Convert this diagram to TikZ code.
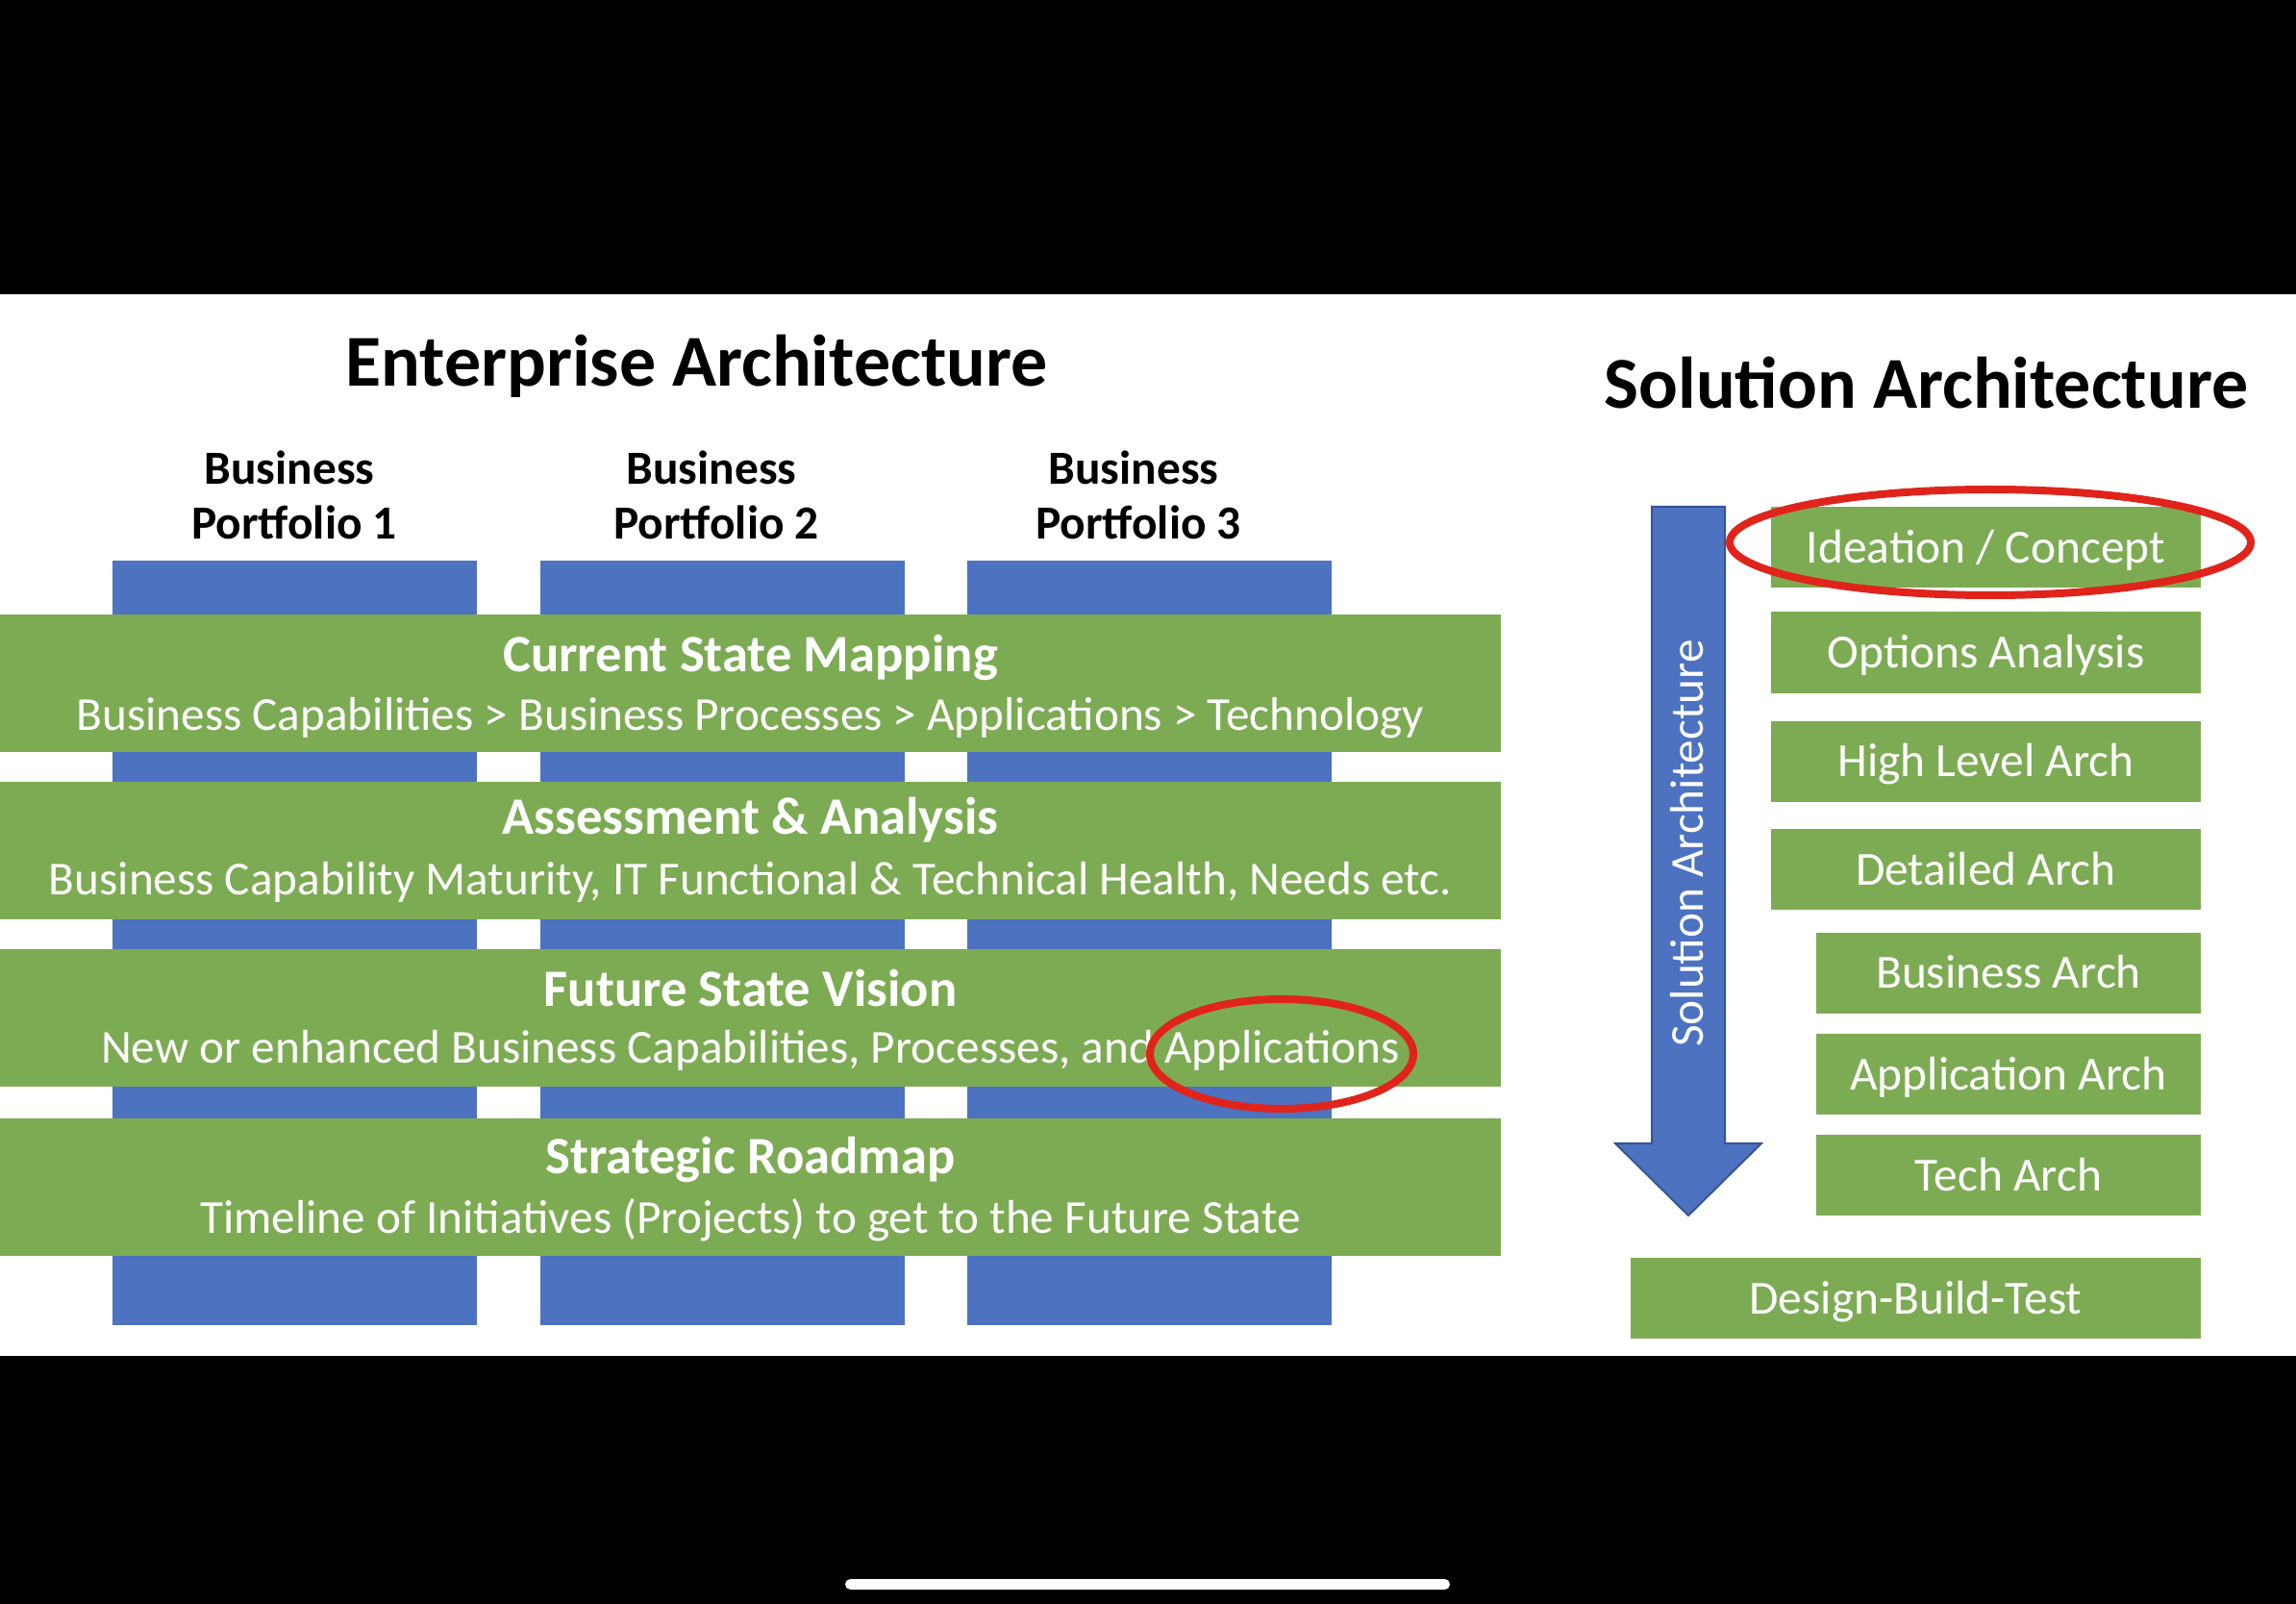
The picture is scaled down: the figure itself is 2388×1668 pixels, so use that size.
\documentclass[tikz,border=0pt]{standalone}
\usepackage{fontspec}
\setmainfont{Carlito}
\usetikzlibrary{shapes.geometric}
\definecolor{eablue}{RGB}{76,114,192}
\definecolor{eagreen}{RGB}{125,171,84}
\definecolor{ringred}{RGB}{224,36,28}
\definecolor{arrowedge}{RGB}{52,86,150}
\tikzset{
  colbox/.style={fill=eablue, draw=none, inner sep=0pt, outer sep=0pt, anchor=north west,
                 minimum width=189.5pt, minimum height=397.5pt},
  bandbox/.style={fill=eagreen, draw=none, inner sep=0pt, outer sep=0pt, anchor=north west,
                  minimum width=780.5pt, minimum height=71.5pt},
  titletext/.style={anchor=base, inner sep=0pt, font=\fontsize{38}{44}\selectfont\bfseries},
  porttext/.style={anchor=base, inner sep=0pt, font=\fontsize{24.7}{29}\selectfont\bfseries},
  headtext/.style={anchor=base, inner sep=0pt, text=white, font=\fontsize{27.3}{32}\selectfont\bfseries},
  subtext/.style={anchor=base, inner sep=0pt, text=white, font=\fontsize{24.6}{29}\selectfont},
  rbox/.style={fill=eagreen, draw=none, text=white, inner sep=0pt, outer sep=0pt,
               font=\fontsize{24.7}{29}\selectfont, text height=16pt, text depth=0pt,
               minimum height=42pt},
  vtext/.style={text=white, inner sep=0pt, font=\fontsize{24.6}{30}\selectfont,
                text height=15.6pt, text depth=0pt, rotate=90},
  ring/.style={ellipse, draw=ringred, line width=4pt, inner sep=0pt, fill=none}
}
\begin{document}
\begin{tikzpicture}[x=0.5pt,y=-0.5pt]
\useasboundingbox (0,0) rectangle (2388,1668);
\fill[black] (0,0) rectangle (2388,1668);
\fill[white] (0,306) rectangle (2388,1410);
\fill[white, rounded corners=2.75pt] (879,1642) rectangle (1508,1653);

% titles
\node[titletext] (eatitle) at (724.5,402) {Enterprise Architecture};
\node[titletext] (satitle) at (2003.5,425) {Solution Architecture};

% portfolio labels
\node[porttext] (p1a) at (301,504) {Business};
\node[porttext] (p1b) at (306,561) {Portfolio 1};
\node[porttext] (p2a) at (740,504) {Business};
\node[porttext] (p2b) at (745,561) {Portfolio 2};
\node[porttext] (p3a) at (1179,504) {Business};
\node[porttext] (p3b) at (1184,561) {Portfolio 3};

% portfolio columns
\node[colbox] (col1) at (117,583) {};
\node[colbox] (col2) at (562,583) {};
\node[colbox] (col3) at (1006,583) {};

% bands
\node[bandbox] (band1) at (0,639) {};
\node[bandbox] (band2) at (0,813) {};
\node[bandbox] (band3) at (0,987) {};
\node[bandbox] (band4) at (0,1163) {};

\node[headtext] (h1) at (780.5,698) {Current State Mapping};
\node[subtext]  (s1) at (780.5,759) {Business Capabilities > Business Processes > Applications > Technology};
\node[headtext] (h2) at (780.5,867) {Assessment \& Analysis};
\node[subtext]  (s2) at (780.5,930) {Business Capability Maturity, IT Functional \& Technical Health, Needs etc.};
\node[headtext] (h3) at (780.5,1046) {Future State Vision};
\node[subtext]  (s3) at (780.5,1105) {New or enhanced Business Capabilities, Processes, and Applications};
\node[headtext] (h4) at (780.5,1220) {Strategic Roadmap};
\node[subtext]  (s4) at (780.5,1282) {Timeline of Initiatives (Projects) to get to the Future State};

% solution architecture arrow
\draw[arrowedge, fill=eablue, line width=1pt]
  (1718,527) -- (1794,527) -- (1794,1189) -- (1832,1189) -- (1756,1264)
  -- (1680,1189) -- (1718,1189) -- cycle;
\node[vtext] (satext) at (1756,877) {Solution Architecture};

% solution steps
\node[rbox, minimum width=223.5pt] (ideation) at (2065.5,569.5) {Ideation / Concept};
\node[rbox, minimum width=223.5pt] (options)  at (2065.5,678.5) {Options Analysis};
\node[rbox, minimum width=223.5pt] (highlvl)  at (2065.5,791.5) {High Level Arch};
\node[rbox, minimum width=223.5pt] (detailed) at (2065.5,904) {Detailed Arch};
\node[rbox, minimum width=200pt] (busarch) at (2089,1011.5) {Business Arch};
\node[rbox, minimum width=200pt] (apparch) at (2089,1117) {Application Arch};
\node[rbox, minimum width=200pt] (techarch) at (2089,1222) {Tech Arch};
\node[rbox, minimum width=296.5pt] (dbt) at (1992.5,1350) {Design-Build-Test};

% red highlight rings
\node[ring, minimum width=271pt, minimum height=55pt] (ringA) at (2070,564) {};
\node[ring, minimum width=137pt, minimum height=57pt] (ringB) at (1333,1096) {};
\end{tikzpicture}
\end{document}
